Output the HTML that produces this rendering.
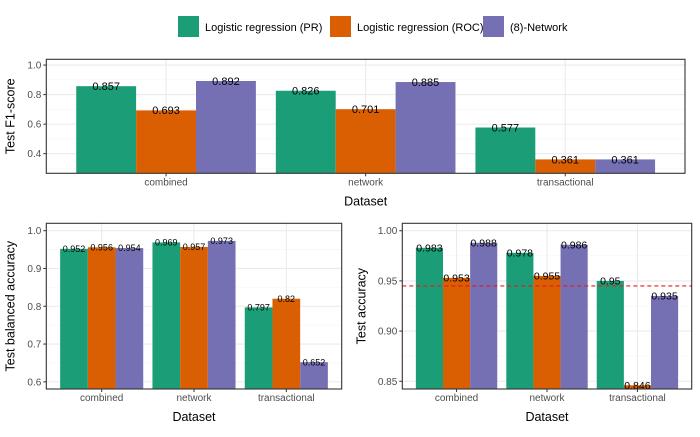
<!DOCTYPE html>
<html><head><meta charset="utf-8"><style>
body{margin:0;background:#fff;width:700px;height:432px;overflow:hidden;font-family:"Liberation Sans",Arial,sans-serif}
</style></head><body>
<svg id="s" width="700" height="432" xmlns="http://www.w3.org/2000/svg">
<g>
<rect x="178" y="16" width="21" height="21" fill="#1B9E77"/>
<text x="205" y="31" font-size="11" fill="#000">Logistic regression (PR)</text>
<rect x="330" y="16" width="21" height="21" fill="#D95F02"/>
<text x="357" y="31" font-size="11" fill="#000">Logistic regression (ROC)</text>
<rect x="483" y="16" width="21" height="21" fill="#7570B3"/>
<text x="510" y="31" font-size="11" fill="#000">(8)-Network</text>
</g>
</svg>
<script>
const categories=["combined","network","transactional"];
const seriesNames=["Logistic regression (PR)","Logistic regression (ROC)","(8)-Network"];
const colors=["#1B9E77","#D95F02","#7570B3"];
const f1PR=[0.857,0.826,0.577];
const f1ROC=[0.693,0.701,0.361];
const f1Net=[0.892,0.885,0.361];
const f1Ticks=[0.4,0.6,0.8,1.0];
const f1TickLabels=["0.4","0.6","0.8","1.0"];
const balPR=[0.952,0.969,0.797];
const balROC=[0.956,0.957,0.82];
const balNet=[0.954,0.973,0.652];
const balTicks=[0.6,0.7,0.8,0.9,1.0];
const balTickLabels=["0.6","0.7","0.8","0.9","1.0"];
const accPR=[0.983,0.978,0.95];
const accROC=[0.953,0.955,0.846];
const accNet=[0.988,0.986,0.935];
const accTicks=[0.85,0.90,0.95,1.00];
const accTickLabels=["0.85","0.90","0.95","1.00"];
const accRef=0.945;

const svg=document.getElementById('s');
const NS="http://www.w3.org/2000/svg";
function mk(tag,attrs,parent,txt){const e=document.createElementNS(NS,tag);for(const k in attrs)e.setAttribute(k,attrs[k]);if(txt!==undefined)e.textContent=txt;parent.appendChild(e);return e;}

function panel(name,box,dom,ticks,tickLabels,series,ytitle,lblSize,fmt,yOff,refLine){
  const g=mk('g',{},svg);
  
  
  const [L,T,R,B]=box;
  const y=v=>B-(v-dom[0])/(dom[1]-dom[0])*(B-T);
  const unit=(R-L)/3.2;
  const x=i=>L+(0.6+i)*unit;
  for(let i=0;i<ticks.length+1;i++){
    const step=ticks[1]-ticks[0];
    const v=ticks[0]-step/2+i*step;
    if(v>dom[0]&&v<dom[1]){const l=mk('line',{x1:L,x2:R,y1:y(v),y2:y(v),stroke:'#F4F4F4','stroke-width':0.6},g);
      
      }
  }
  ticks.forEach((v,i)=>{
    const l=mk('line',{x1:L,x2:R,y1:y(v),y2:y(v),stroke:'#EBEBEB','stroke-width':1.1},g);
    
    
    mk('line',{x1:L-3,x2:L,y1:y(v),y2:y(v),stroke:'#333','stroke-width':1},g);
    const t=mk('text',{x:L-5,y:y(v)+3.5,'font-size':10,fill:'#4D4D4D','text-anchor':'end'},g,tickLabels[i]);
    
    
  });
  categories.forEach((c,i)=>{
    const l=mk('line',{x1:x(i),x2:x(i),y1:T,y2:B,stroke:'#EBEBEB','stroke-width':1.1},g);
    
    
  });
  const bw=unit*0.3;
  series.forEach((vals,s)=>{
    vals.forEach((v,i)=>{
      const bx=x(i)-unit*0.45+s*bw;
      const top=y(v);
      const r=mk('rect',{x:bx,y:top,width:bw,height:B-top,fill:colors[s]},g);
      
      
      const t=mk('text',{x:bx+bw/2,y:top+lblSize*0.35,'font-size':lblSize,fill:'#000','text-anchor':'middle'},g,fmt(v));
      
      
    });
  });
  if(refLine!==undefined){
    const l=mk('line',{x1:L,x2:R,y1:y(refLine),y2:y(refLine),stroke:'#E41A1C','stroke-width':1.1,'stroke-dasharray':'4,3'},g);
    
    
  }
  const fr=mk('rect',{x:L,y:T,width:R-L,height:B-T,fill:'none',stroke:'#333','stroke-width':1.1},g);
  
  
  categories.forEach((c,i)=>{
    mk('line',{x1:x(i),x2:x(i),y1:B,y2:B+3,stroke:'#333'},g);
    const t=mk('text',{x:x(i),y:B+12,'font-size':10,fill:'#4D4D4D','text-anchor':'middle'},g,c);
    
    
  });
  const xt=mk('text',{x:(L+R)/2,y:B+32,'font-size':12.5,fill:'#000','text-anchor':'middle'},g,'Dataset');
  
  
  const yx=L-yOff, yy=(T+B)/2;
  const yt=mk('text',{x:yx,y:yy,'font-size':12.5,fill:'#000','text-anchor':'middle',transform:`rotate(-90 ${yx} ${yy})`},g,ytitle);
  
  
}
const f3=v=>String(+v.toFixed(3));
panel('f1-score-panel',[46.3,59.3,685,173.3],[0.267,1.039],f1Ticks,f1TickLabels,[f1PR,f1ROC,f1Net],'Test F1-score',11,f3,32);
panel('balanced-accuracy-panel',[46.3,223.3,341.7,389],[0.581,1.0196],balTicks,balTickLabels,[balPR,balROC,balNet],'Test balanced accuracy',9,f3,32);
panel('accuracy-panel',[402.3,223.3,691.7,389],[0.8423,1.0074],accTicks,accTickLabels,[accPR,accROC,accNet],'Test accuracy',10.5,f3,37,accRef);
</script>
</body></html>
